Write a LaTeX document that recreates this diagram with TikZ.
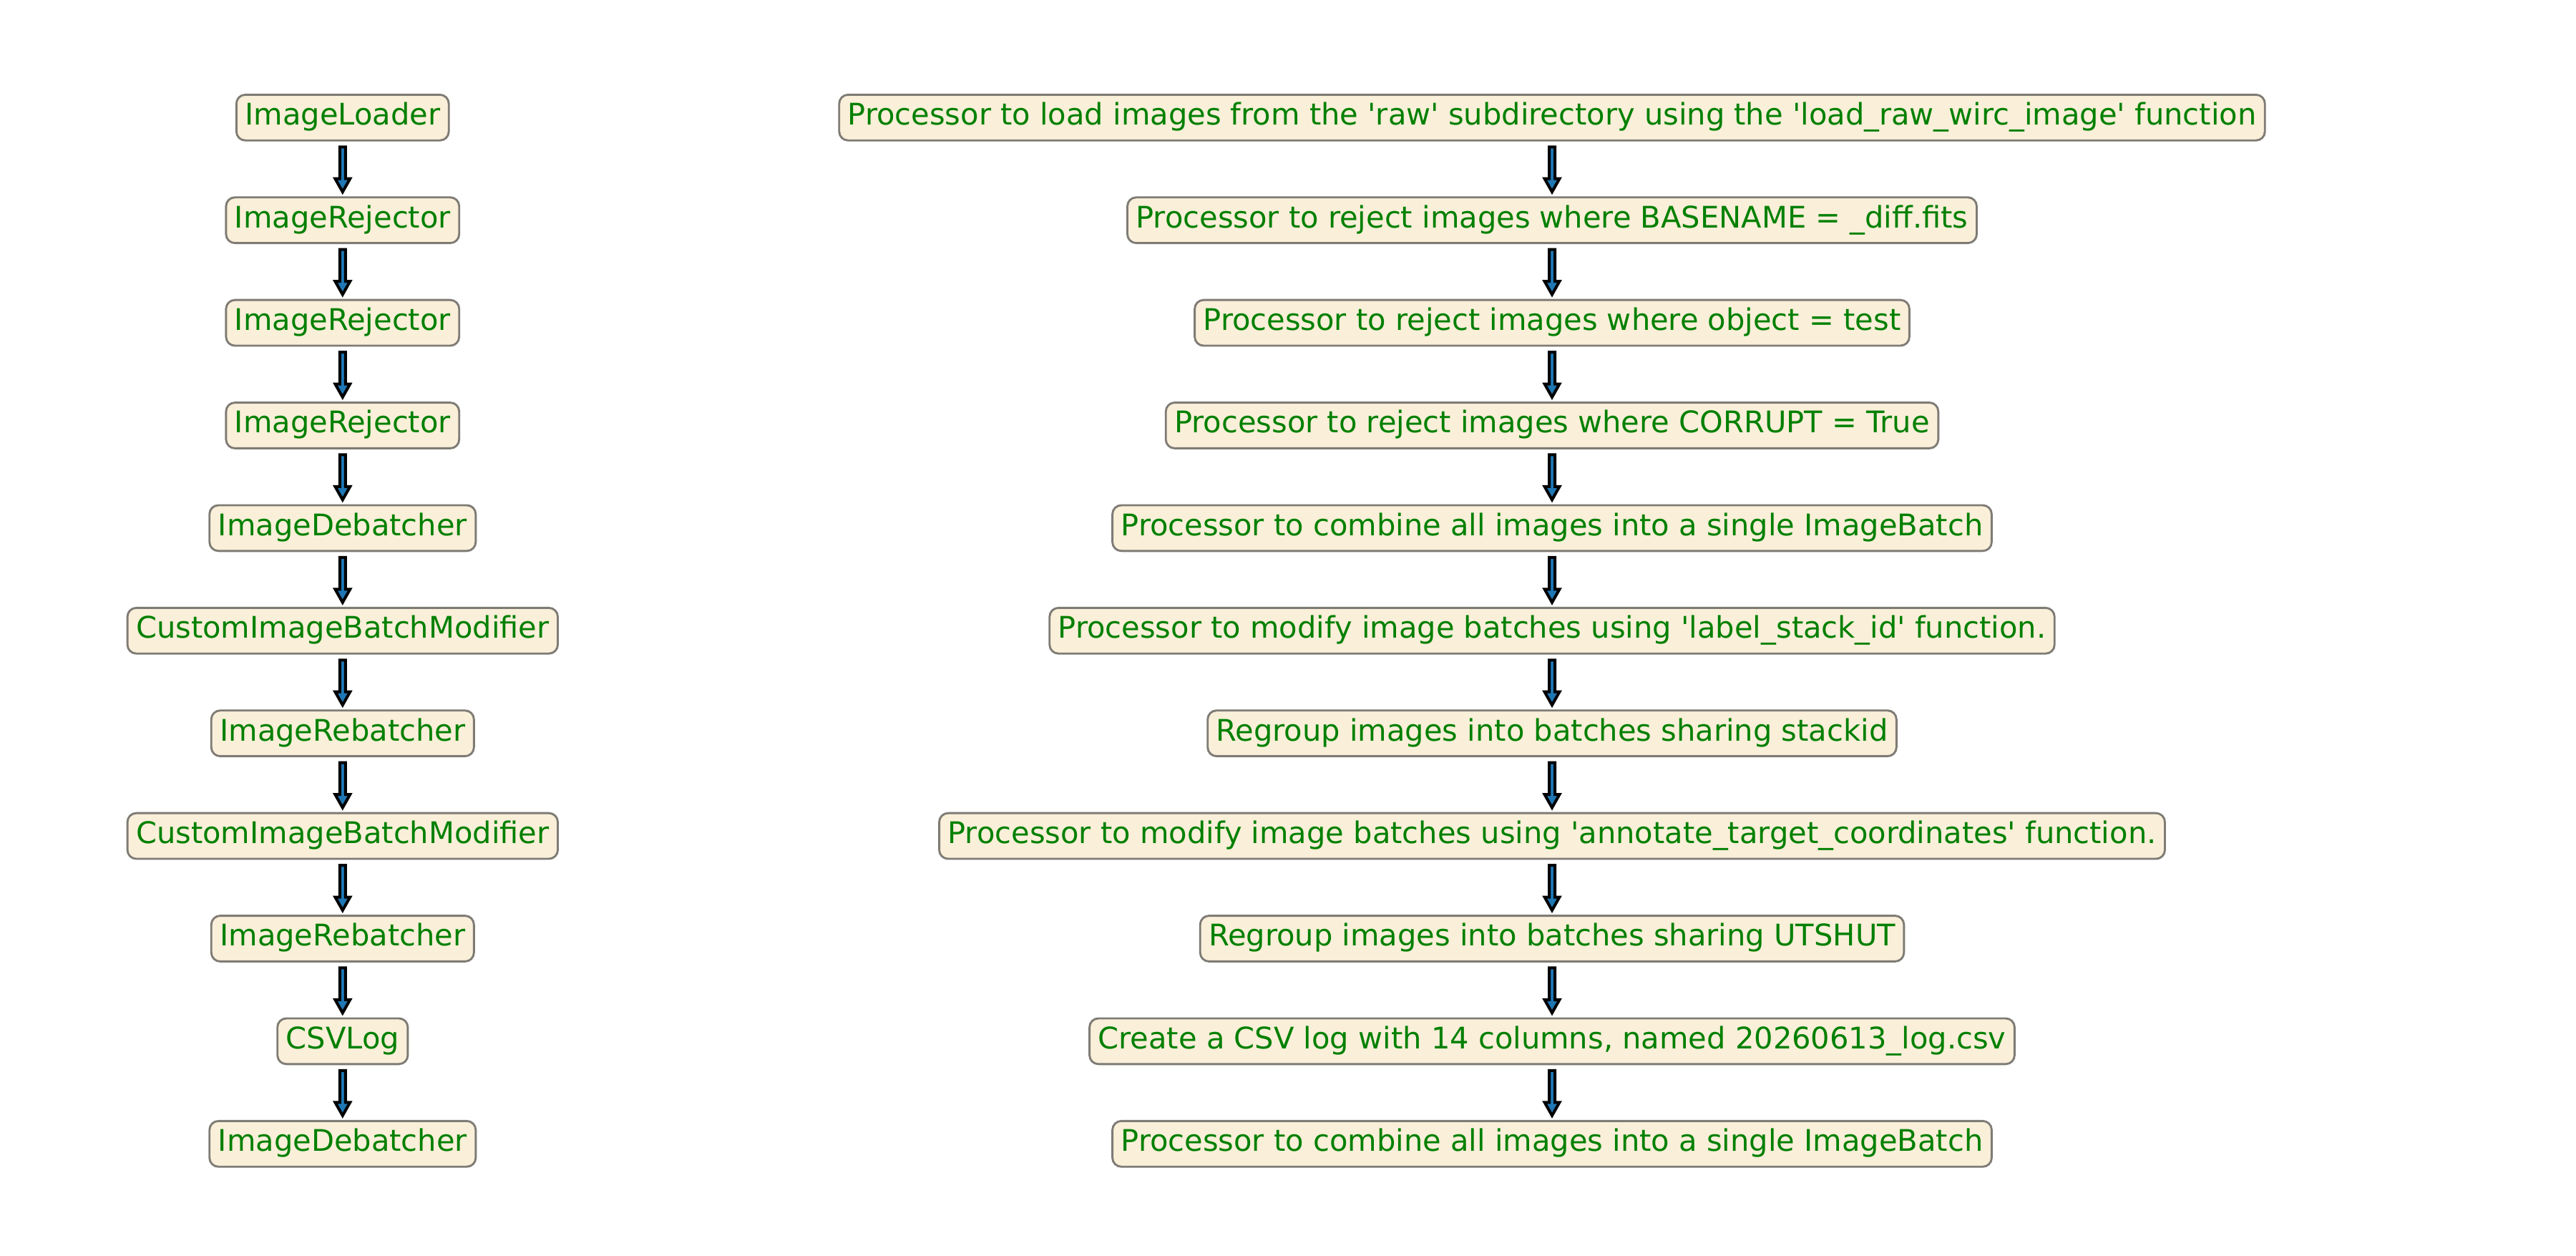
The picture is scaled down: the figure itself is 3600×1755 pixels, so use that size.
\documentclass[tikz,border=0pt]{standalone}
\usepackage{fontspec}
\setmainfont{DejaVu Sans}
\usetikzlibrary{calc}
\definecolor{boxfill}{HTML}{FAEFD9}
\definecolor{boxedge}{HTML}{7F7B75}
\definecolor{txtgreen}{HTML}{008000}
\definecolor{arrowblue}{HTML}{1F77B4}
\newcommand{\sq}{\textquotesingle}
\tikzset{
  procbox/.style={draw=boxedge, fill=boxfill, line width=0.72pt, rounded corners=3.1pt,
    inner sep=0.3em, text height=0.76em, text depth=0.236em, text=txtgreen,
    font=\fontsize{10.4pt}{12pt}\selectfont},
  fatarrow/.style={draw=black, fill=arrowblue, line width=1pt, line join=miter,
    to path={let \p1=(\tikztostart.south), \p2=(\tikztotarget.north) in
      (\x1-1pt,\y1-1.9pt) -- (\x1+1pt,\y1-1.9pt) -- (\x1+1pt,\y2+6.15pt)
      -- (\x1+2.6pt,\y2+6.15pt) -- (\x1,\y2+1.55pt) -- (\x1-2.6pt,\y2+6.15pt)
      -- (\x1-1pt,\y2+6.15pt) -- cycle}}
}
\begin{document}
\begin{tikzpicture}[x=0.25pt,y=-0.25pt]
\useasboundingbox (0,0) rectangle (3600,1755);
\def\lx{478.8}
\def\rx{2169}
\foreach \i/\t in {0/ImageLoader,1/ImageRejector,2/ImageRejector,3/ImageRejector,4/ImageDebatcher,5/CustomImageBatchModifier,6/ImageRebatcher,7/CustomImageBatchModifier,8/ImageRebatcher,9/CSVLog,10/ImageDebatcher}{
  \node[procbox] (l\i) at (\lx,{164.3+143.4*\i}) {\t};
}
\node[procbox] (r0) at (\rx,{164.3+143.4*0}) {Processor to load images from the \sq raw\sq\ subdirectory using the \sq load\_raw\_wirc\_image\sq\ function};
\node[procbox] (r1) at (\rx,{164.3+143.4*1}) {Processor to reject images where BASENAME = \_diff.fits};
\node[procbox] (r2) at (\rx,{164.3+143.4*2}) {Processor to reject images where object = test};
\node[procbox] (r3) at (\rx,{164.3+143.4*3}) {Processor to reject images where CORRUPT = True};
\node[procbox] (r4) at (\rx,{164.3+143.4*4}) {Processor to combine all images into a single ImageBatch};
\node[procbox] (r5) at (\rx,{164.3+143.4*5}) {Processor to modify image batches using \sq label\_stack\_id\sq\ function.};
\node[procbox] (r6) at (\rx,{164.3+143.4*6}) {Regroup images into batches sharing stackid};
\node[procbox] (r7) at (\rx,{164.3+143.4*7}) {Processor to modify image batches using \sq annotate\_target\_coordinates\sq\ function.};
\node[procbox] (r8) at (\rx,{164.3+143.4*8}) {Regroup images into batches sharing UTSHUT};
\node[procbox] (r9) at (\rx,{164.3+143.4*9}) {Create a CSV log with 14 columns, named 20260613\_log.csv};
\node[procbox] (r10) at (\rx,{164.3+143.4*10}) {Processor to combine all images into a single ImageBatch};
\foreach \i [evaluate=\i as \j using int(\i+1)] in {0,...,9}{
  \path[fatarrow] (l\i) to (l\j);
  \path[fatarrow] (r\i) to (r\j);
}
\end{tikzpicture}
\end{document}
